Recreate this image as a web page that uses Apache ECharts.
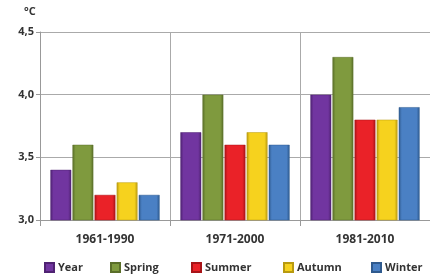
<!DOCTYPE html>
<html>
<head>
<meta charset="utf-8">
<script src="https://cdn.jsdelivr.net/npm/echarts@6/dist/echarts.min.js"></script>
<style>
  html, body { margin: 0; padding: 0; background: #fff; }
  #main { width: 430px; height: 278px; }
</style>
</head>
<body>
<div id="main"></div>
<script>
const periods = ['1961-1990', '1971-2000', '1981-2010'];
const seriesNames = ['Year', 'Spring', 'Summer', 'Autumn', 'Winter'];
const year = [3.4, 3.7, 4.0];
const spring = [3.6, 4.0, 4.3];
const summer = [3.2, 3.6, 3.8];
const autumn = [3.3, 3.7, 3.8];
const winter = [3.2, 3.6, 3.9];
const yTicks = [3.0, 3.5, 4.0, 4.5];

const colors = ['#7135a0', '#7f9a3e', '#ea2228', '#f6d21e', '#4a80c4'];
const borders = ['#4f2272', '#5a6e29', '#a81418', '#b89a10', '#2f5a8e'];
const allValues = [year, spring, summer, autumn, winter];
// legend item left edges
const legendLeft = [44, 110, 191, 283, 371];

const chartDom = document.getElementById('main');
const myChart = echarts.init(chartDom);

const font = "'Open Sans', sans-serif";

const option = {
  backgroundColor: '#fff',
  animation: false,
  grid: { left: 40, top: 32, width: 396, height: 188 },
  legend: seriesNames.map((name, i) => ({
    top: 262,
    left: legendLeft[i],
    padding: 0,
    itemWidth: 9,
    itemHeight: 9,
    itemGap: 5,
    icon: 'rect',
    textStyle: { fontFamily: font, fontWeight: 'bold', fontSize: 11, color: '#333', padding: [0, 0, 0, -1] },
    data: [name]
  })),
  graphic: [{
    type: 'text',
    left: 24,
    top: 6,
    style: { text: '°C', font: "bold 11px 'Open Sans', sans-serif", fill: '#333' }
  }],
  xAxis: {
    type: 'category',
    data: periods,
    axisLine: { lineStyle: { color: '#999' } },
    axisTick: { show: true, length: 6, lineStyle: { color: '#999' } },
    splitLine: { show: true, lineStyle: { color: '#aaa' } },
    axisLabel: { margin: 14, fontFamily: font, fontWeight: 'bold', fontSize: 12, color: '#333' }
  },
  yAxis: {
    type: 'value',
    min: yTicks[0],
    max: yTicks[yTicks.length - 1],
    interval: 0.5,
    axisLine: { show: true, lineStyle: { color: '#999' } },
    axisTick: { show: true, length: 4, lineStyle: { color: '#999' } },
    splitLine: { lineStyle: { color: '#aaa' } },
    axisLabel: {
      margin: 6,
      fontFamily: font, fontWeight: 'bold', fontSize: 11, color: '#333',
      formatter: v => v.toFixed(1).replace('.', ',')
    }
  },
  series: seriesNames.map((name, i) => ({
    name: name,
    type: 'bar',
    data: allValues[i],
    barGap: '6%',
    barCategoryGap: '16%',
    itemStyle: {
      color: new echarts.graphic.LinearGradient(0, 0, 1, 0, [
        { offset: 0, color: borders[i] },
        { offset: 0.15, color: colors[i] },
        { offset: 0.85, color: colors[i] },
        { offset: 1, color: borders[i] }
      ]),
      borderColor: borders[i],
      borderWidth: 0.5
    }
  }))
};

myChart.setOption(option);
</script>
</body>
</html>
